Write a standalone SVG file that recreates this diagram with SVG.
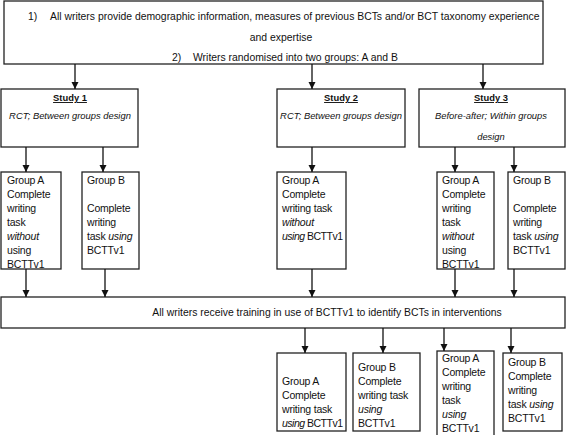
<svg xmlns="http://www.w3.org/2000/svg" width="567" height="435" viewBox="0 0 567 435">
<defs>
<marker id="ah" markerUnits="userSpaceOnUse" markerWidth="8" markerHeight="8" refX="7" refY="4" orient="auto">
<path d="M0,0.5 L7,4 L0,7.5 z" fill="#111"/>
</marker>
<style>
.box{fill:#fff;stroke:#222;stroke-width:1.3}
.t{font-family:"Liberation Sans",Arial,sans-serif;font-size:10.5px;letter-spacing:-0.2px;fill:#111}
.s{font-size:10.4px;letter-spacing:0}
.m{font-size:9.4px;letter-spacing:0}
.n{letter-spacing:-0.5px}
.c{text-anchor:middle}
.i{font-style:italic}
.b{font-weight:bold}
.u{text-decoration:underline}
.ln{stroke:#111;stroke-width:1.3;fill:none;marker-end:url(#ah)}
</style>
</defs>
<rect width="567" height="435" fill="#fff"/>
<g id="top">
<rect class="box" x="4" y="1" width="539" height="63"/>
<text class="t s" x="28" y="20">1)</text>
<text class="t s" x="50" y="20">All writers provide demographic information, measures of previous BCTs and/or BCT taxonomy experience</text>
<text class="t s c" x="281" y="41">and expertise</text>
<text class="t s" x="172" y="61">2)</text>
<text class="t s" x="193" y="61">Writers randomised into two groups: A and B</text>
</g>
<g id="study1">
<rect class="box" x="1" y="89" width="137" height="58"/>
<text class="t m c b u" x="70" y="101">Study 1</text>
<text class="t m c i" x="70" y="119">RCT; Between groups design</text>
</g>
<g id="study2">
<rect class="box" x="277" y="89" width="128" height="58"/>
<text class="t m c b u" x="341" y="101">Study 2</text>
<text class="t m c i" x="341" y="119">RCT; Between groups design</text>
</g>
<g id="study3">
<rect class="box" x="419" y="89" width="146" height="58"/>
<text class="t m c b u" x="491" y="101">Study 3</text>
<text class="t m c i" x="491" y="119">Before-after; Within groups</text>
<text class="t m c i" x="491" y="140">design</text>
</g>
<g id="s1a">
<rect class="box" x="1" y="172" width="60" height="97"/>
<text class="t"><tspan x="7" y="184">Group A</tspan><tspan x="7" y="198">Complete</tspan><tspan x="7" y="212">writing</tspan><tspan x="7" y="226">task</tspan><tspan x="7" y="240" class="i">without</tspan><tspan x="7" y="254">using</tspan><tspan x="7" y="268">BCTTv1</tspan></text>
</g>
<g id="s1b">
<rect class="box" x="82" y="172" width="57" height="97"/>
<text class="t"><tspan x="87" y="184">Group B</tspan><tspan x="87" y="212">Complete</tspan><tspan x="87" y="226">writing</tspan><tspan x="87" y="240">task <tspan class="i">using</tspan></tspan><tspan x="87" y="254">BCTTv1</tspan></text>
</g>
<g id="s2a">
<rect class="box" x="277" y="172" width="69" height="97"/>
<text class="t"><tspan x="282" y="184">Group A</tspan><tspan x="282" y="198">Complete</tspan><tspan x="282" y="212">writing task</tspan><tspan x="282" y="226" class="i">without</tspan><tspan x="282" y="240" class="n"><tspan class="i">using</tspan> BCTTv1</tspan></text>
</g>
<g id="s3a">
<rect class="box" x="437" y="172" width="57" height="97"/>
<text class="t"><tspan x="442" y="184">Group A</tspan><tspan x="442" y="198">Complete</tspan><tspan x="442" y="212">writing</tspan><tspan x="442" y="226">task</tspan><tspan x="442" y="240" class="i">without</tspan><tspan x="442" y="254">using</tspan><tspan x="442" y="268">BCTTv1</tspan></text>
</g>
<g id="s3b">
<rect class="box" x="508" y="172" width="57" height="97"/>
<text class="t"><tspan x="513" y="184">Group B</tspan><tspan x="513" y="212">Complete</tspan><tspan x="513" y="226">writing</tspan><tspan x="513" y="240">task <tspan class="i">using</tspan></tspan><tspan x="513" y="254">BCTTv1</tspan></text>
</g>
<g id="training">
<rect class="box" x="1" y="297" width="564" height="31"/>
<text class="t s c" x="327" y="316">All writers receive training in use of BCTTv1 to identify BCTs in interventions</text>
</g>
<g id="r2a">
<rect class="box" x="277" y="353" width="69" height="78"/>
<text class="t"><tspan x="282" y="385">Group A</tspan><tspan x="282" y="399">Complete</tspan><tspan x="282" y="413">writing task</tspan><tspan x="282" y="427" class="n"><tspan class="i">using</tspan> BCTTv1</tspan></text>
</g>
<g id="r2b">
<rect class="box" x="353" y="353" width="67" height="78"/>
<text class="t"><tspan x="358" y="371">Group B</tspan><tspan x="358" y="385">Complete</tspan><tspan x="358" y="399">writing task</tspan><tspan x="358" y="413" class="i">using</tspan><tspan x="358" y="427">BCTTv1</tspan></text>
</g>
<g id="r2c">
<rect class="box" x="437" y="351" width="57" height="85"/>
<text class="t"><tspan x="442" y="362">Group A</tspan><tspan x="442" y="376">Complete</tspan><tspan x="442" y="390">writing</tspan><tspan x="442" y="404">task</tspan><tspan x="442" y="418" class="i">using</tspan><tspan x="442" y="432">BCTTv1</tspan></text>
</g>
<g id="r2d">
<rect class="box" x="503" y="353" width="59" height="78"/>
<text class="t"><tspan x="508" y="366">Group B</tspan><tspan x="508" y="380">Complete</tspan><tspan x="508" y="394">writing</tspan><tspan x="508" y="408">task <tspan class="i">using</tspan></tspan><tspan x="508" y="422">BCTTv1</tspan></text>
</g>
<g id="connectors">
<line class="ln" x1="75" y1="64" x2="75" y2="89"/>
<line class="ln" x1="312" y1="64" x2="312" y2="89"/>
<line class="ln" x1="483" y1="64" x2="483" y2="89"/>
<line class="ln" x1="26" y1="147" x2="26" y2="172"/>
<line class="ln" x1="103" y1="147" x2="103" y2="172"/>
<line class="ln" x1="312" y1="147" x2="312" y2="172"/>
<line class="ln" x1="455" y1="147" x2="455" y2="172"/>
<line class="ln" x1="514" y1="147" x2="514" y2="172"/>
<line class="ln" x1="26" y1="269" x2="26" y2="297"/>
<line class="ln" x1="105" y1="269" x2="105" y2="297"/>
<line class="ln" x1="312" y1="269" x2="312" y2="297"/>
<line class="ln" x1="455" y1="269" x2="455" y2="297"/>
<line class="ln" x1="514" y1="269" x2="514" y2="297"/>
<line class="ln" x1="305" y1="328" x2="305" y2="353"/>
<line class="ln" x1="383" y1="328" x2="383" y2="353"/>
<line class="ln" x1="444" y1="328" x2="444" y2="351"/>
<line class="ln" x1="511" y1="328" x2="511" y2="353"/>
</g>
</svg>
